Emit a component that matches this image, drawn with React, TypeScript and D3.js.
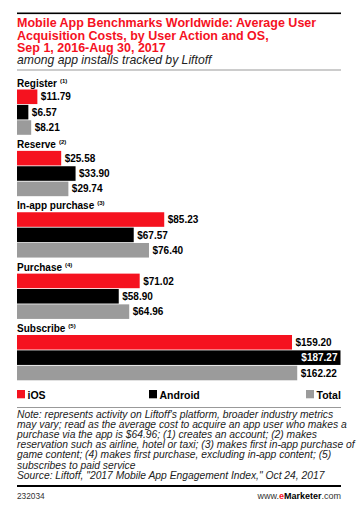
import React from "react";
import * as d3 from "d3";

const categories = ["Register", "Reserve", "In-app purchase", "Purchase", "Subscribe"];
const footnoteMarks = ["(1)", "(2)", "(3)", "(4)", "(5)"];
const seriesNames = ["iOS", "Android", "Total"];
const iosValues = [11.79, 25.58, 85.23, 71.02, 159.2];
const androidValues = [6.57, 33.9, 67.57, 58.9, 187.27];
const totalValues = [8.21, 29.74, 76.4, 64.96, 162.22];
const seriesColors = ["#f5121f", "#000000", "#9b9b9b"];

const titleLines = [
  "Mobile App Benchmarks Worldwide: Average User",
  "Acquisition Costs, by User Action and OS,",
  "Sep 1, 2016-Aug 30, 2017",
];
const subtitle = "among app installs tracked by Liftoff";
const noteLines = [
  "Note: represents activity on Liftoff's platform, broader industry metrics",
  "may vary; read as the average cost to acquire an app user who makes a",
  "purchase via the app is $64.96; (1) creates an account; (2) makes",
  "reservation such as airline, hotel or taxi; (3) makes first in-app purchase of",
  "game content; (4) makes first purchase, excluding in-app content; (5)",
  "subscribes to paid service",
  "Source: Liftoff, \"2017 Mobile App Engagement Index,\" Oct 24, 2017",
];
const chartId = "232034";

const W = 358;
const H = 515;
const L = 17;
const R = 341;
const FONT = "'Liberation Sans', Arial, sans-serif";

export default function App() {
  const series = [iosValues, androidValues, totalValues];
  const x = d3.scaleLinear().domain([0, 187.27]).range([L, R - 0.5]);
  const gy = d3.scalePoint<string>().domain(categories).range([89.5, 335]);
  const inner = d3
    .scaleBand<string>()
    .domain(seriesNames)
    .range([0, 45.3])
    .paddingInner(0.052)
    .paddingOuter(0);
  const bw = inner.bandwidth();
  const fmt = (v: number) => "$" + d3.format(".2f")(v);
  const maxV = d3.max(androidValues) as number;

  const legendX = [17, 149, 306];

  return (
    <svg
      width={W}
      height={H}
      style={{ position: "absolute", left: 0, top: 0, background: "#fff" }}
      fontFamily={FONT}
    >
      <rect x={0} y={0} width={W} height={H} fill="#fff" />
      <rect x={L} y={12.5} width={R - L} height={1.6} fill="#000" />
      {titleLines.map((t, i) => (
        <text key={i} x={L} y={27.3 + i * 12.2} fill="#f5121f" fontSize={12.5} fontWeight="bold">
          {t}
        </text>
      ))}
      <text x={L} y={64} fontSize={12.2} fontStyle="italic" fill="#222">
        {subtitle}
      </text>
      <rect x={L} y={69.5} width={R - L} height={1} fill="#999" />

      {categories.map((c, ci) => {
        const g0 = gy(c) as number;
        return (
          <g key={c}>
            <text x={L} y={g0 - 3} fontSize={10} fontWeight="bold" fill="#000">
              {c}
              <tspan fontSize={6} dx={3} dy={-4}>
                {footnoteMarks[ci]}
              </tspan>
            </text>
            {seriesNames.map((s, si) => {
              const v = series[si][ci];
              const y = g0 + (inner(s) as number);
              const inside = v === maxV;
              const xe = x(v);
              return (
                <g key={s}>
                  <rect x={L} y={y} width={xe - L} height={bw} fill={seriesColors[si]} />
                  <text
                    x={inside ? xe - 3 : xe + 3.5}
                    y={y + bw / 2 + 3.6}
                    textAnchor={inside ? "end" : "start"}
                    fontSize={10}
                    fontWeight="bold"
                    fill={inside ? "#fff" : "#000"}
                  >
                    {fmt(v)}
                  </text>
                </g>
              );
            })}
          </g>
        );
      })}

      {seriesNames.map((s, si) => (
        <g key={s}>
          <rect x={legendX[si]} y={390} width={8} height={8.3} fill={seriesColors[si]} />
          <text x={legendX[si] + 10.5} y={398.5} fontSize={10.5} fontWeight="bold" fill="#000">
            {s}
          </text>
        </g>
      ))}
      <rect x={L} y={407} width={R - L} height={1} fill="#999" />

      {noteLines.map((t, i) => (
        <text key={i} x={L} y={418 + i * 10.1} fontSize={10.3} fontStyle="italic" fill="#222">
          {t}
        </text>
      ))}
      <rect x={L} y={485} width={R - L} height={2} fill="#000" />
      <text x={L} y={498.5} fontSize={8.3} fill="#333">
        {chartId}
      </text>
      <text x={R} y={498.5} fontSize={9} textAnchor="end" fill="#333">
        www.
        <tspan fill="#f5121f" fontWeight="bold">e</tspan>
        <tspan fill="#000" fontWeight="bold">Marketer</tspan>
        .com
      </text>
    </svg>
  );
}
